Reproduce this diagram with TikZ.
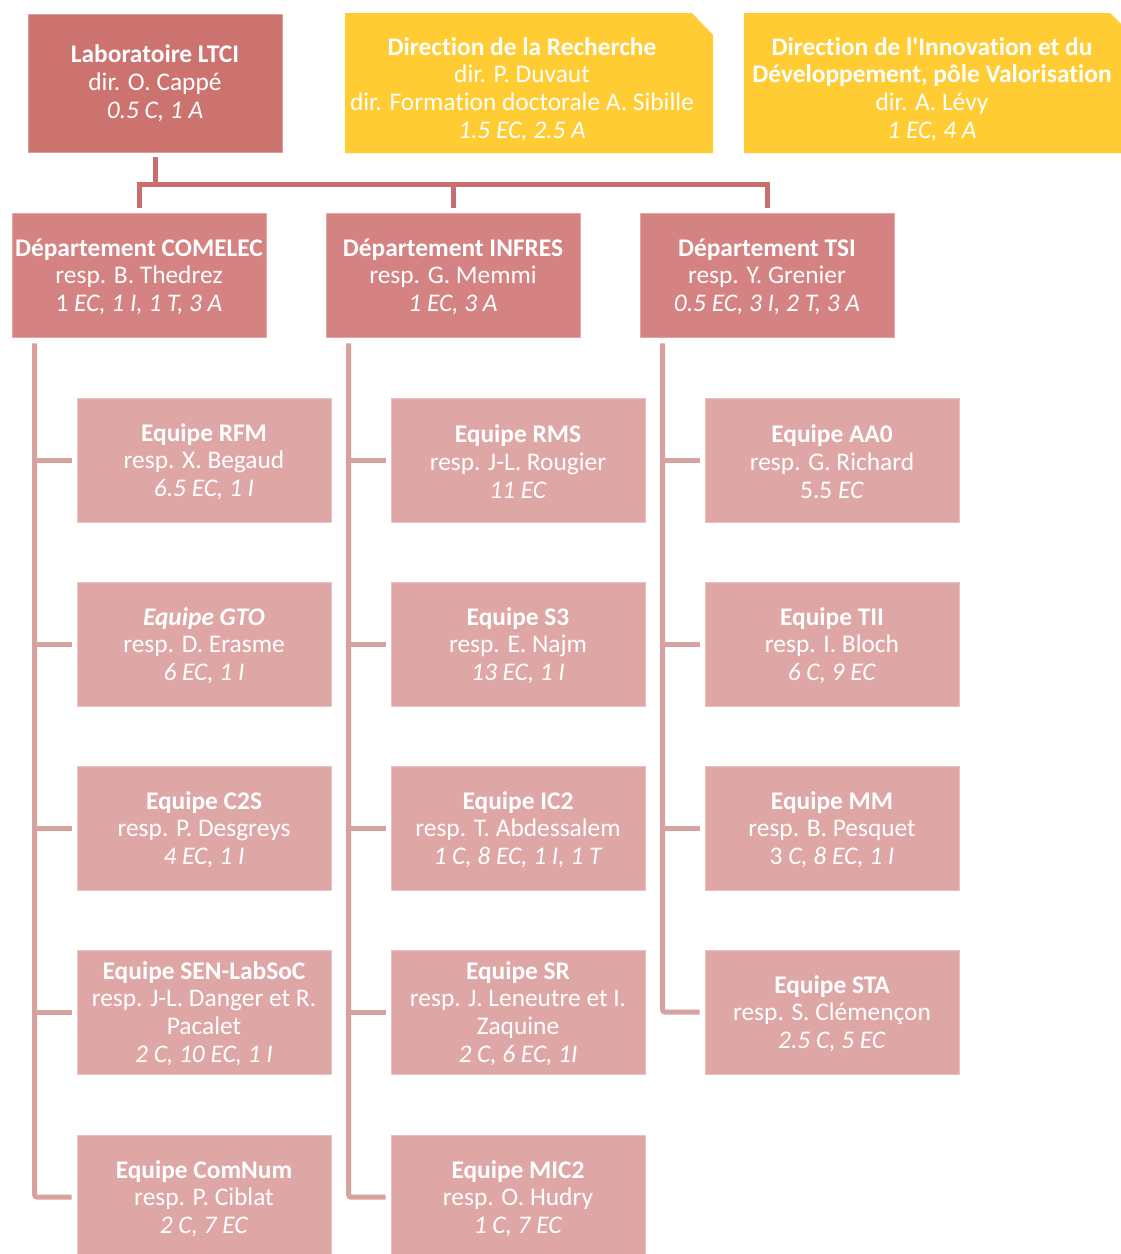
\documentclass[tikz,border=0pt]{standalone}
\usepackage{fontspec}
\setmainfont{Carlito}[Ligatures={TeXOff,CommonOff}]
\usetikzlibrary{calc}
\definecolor{labc}{HTML}{CC7370}
\definecolor{deptc}{HTML}{D48282}
\definecolor{teamc}{HTML}{DFA6A6}
\definecolor{yelc}{HTML}{FFCC33}
\definecolor{toplinec}{HTML}{C96E6E}
\definecolor{teamlinec}{HTML}{D9A0A0}
\newcommand\tp{\rule{0pt}{21pt}}
\newcommand\orgtxt[3]{\tp\textbf{#1}\\#2\\\textit{#3}}
\begin{document}
\begin{tikzpicture}[x=1pt,y=-1pt,
  txt/.style={text=white, align=center, inner sep=0pt, font=\fontsize{25.4}{27.8}\selectfont},
  box/.style={txt, minimum width=254pt, minimum height=124pt},
  labbox/.style={box, minimum height=138pt, fill=labc, draw=labc!70!white, line width=0.6pt},
  deptbox/.style={box, fill=deptc, draw=deptc!70!white, line width=0.6pt},
  teambox/.style={box, fill=teamc, draw=teamc!70!white, line width=0.6pt},
  topline/.style={draw=toplinec, line width=5pt},
  teamline/.style={draw=teamlinec, line width=5pt}]
\useasboundingbox (0,0) rectangle (1121,1254);

% yellow boxes
\fill[yelc] (345,13) -- (692,13) -- (713,35) -- (713,153) -- (345,153) -- cycle;
\fill[yelc] (744,13) -- (1110,13) -- (1121,24) -- (1121,153) -- (744,153) -- cycle;
\node[txt] (dirrech) at (522,88) {\tp\textbf{Direction de la Recherche}\\dir. P. Duvaut\\dir. Formation doctorale A. Sibille\\\textit{1.5 EC, 2.5 A}};
\node[txt] (dirinno) at (932,88) {\tp\textbf{Direction de l'Innovation et du}\\\textbf{Développement, pôle Valorisation}\\dir. A. Lévy\\\textit{1 EC, 4 A}};

% lab
\node[labbox] (ltci) at (155,83) {\textbf{Laboratoire LTCI}\\dir. O. Cappé\\\textit{0.5 C, 1 A}};

% departments
\node[deptbox] (comelec) at (139,275) {\tp\textbf{Département COMELEC}\\resp. B. Thedrez\\1 \textit{EC, 1 I, 1 T, 3 A}};
\node[deptbox] (infres) at (453,275) {\orgtxt{Département INFRES}{resp. G. Memmi}{1 EC, 3 A}};
\node[deptbox] (tsi) at (767,275) {\orgtxt{Département TSI}{resp. Y. Grenier}{0.5 EC, 3 I, 2 T, 3 A}};

% top connectors
\coordinate (bus) at (155,184);
\draw[topline] ([yshift=-5pt]ltci.south) -- (bus);
\draw[topline] ([yshift=5pt]comelec.north) |- (bus) -| ([yshift=5pt]tsi.north);
\draw[topline] ([yshift=5pt]infres.north) -- (infres.north |- bus);

% COMELEC teams
\node[teambox] (rfm) at (204,460) {\orgtxt{Equipe RFM}{resp. X. Begaud}{6.5 EC, 1 I}};
\node[teambox] (gto) at (204,644) {\tp\textbf{\textit{Equipe GTO}}\\resp. D. Erasme\\\textit{6 EC, 1 I}};
\node[teambox] (c2s) at (204,828) {\orgtxt{Equipe C2S}{resp. P. Desgreys}{4 EC, 1 I}};
\node[teambox] (sen) at (204,1012) {\tp\textbf{Equipe SEN-LabSoC}\\resp. J-L. Danger et R.\\Pacalet\\\textit{2 C, 10 EC, 1 I}};
\node[teambox] (comnum) at (204,1197) {\orgtxt{Equipe ComNum}{resp. P. Ciblat}{2 C, 7 EC}};

% INFRES teams
\node[teambox] (rms) at (518,460) {\orgtxt{Equipe RMS}{resp. J-L. Rougier}{11 EC}};
\node[teambox] (s3) at (518,644) {\orgtxt{Equipe S3}{resp. E. Najm}{13 EC, 1 I}};
\node[teambox] (ic2) at (518,828) {\orgtxt{Equipe IC2}{resp. T. Abdessalem}{1 C, 8 EC, 1 I, 1 T}};
\node[teambox] (sr) at (518,1012) {\tp\textbf{Equipe SR}\\resp. J. Leneutre et I.\\Zaquine\\\textit{2 C, 6 EC, 1I}};
\node[teambox] (mic2) at (518,1197) {\orgtxt{Equipe MIC2}{resp. O. Hudry}{1 C, 7 EC}};

% TSI teams
\node[teambox] (aa0) at (832,460) {\tp\textbf{Equipe AA0}\\resp. G. Richard\\5.5 \textit{EC}};
\node[teambox] (tii) at (832,644) {\orgtxt{Equipe TII}{resp. I. Bloch}{6 C, 9 EC}};
\node[teambox] (mm) at (832,828) {\tp\textbf{Equipe MM}\\resp. B. Pesquet\\3 \textit{C, 8 EC, 1 I}};
\node[teambox] (sta) at (832,1012) {\orgtxt{Equipe STA}{resp. S. Clémençon}{2.5 C, 5 EC}};

% team connectors
\coordinate (cx) at ([xshift=23pt,yshift=-6pt]comelec.south west);
\coordinate (ix) at ([xshift=23pt,yshift=-6pt]infres.south west);
\coordinate (tx) at ([xshift=23pt,yshift=-6pt]tsi.south west);
\draw[teamline, rounded corners=2pt] (cx) |- ([xshift=-5pt]comnum.west);
\draw[teamline, rounded corners=2pt] (ix) |- ([xshift=-5pt]mic2.west);
\draw[teamline, rounded corners=2pt] (tx) |- ([xshift=-5pt]sta.west);
\foreach \t in {rfm,gto,c2s,sen} \draw[teamline] (cx |- \t.west) -- ([xshift=-5pt]\t.west);
\foreach \t in {rms,s3,ic2,sr} \draw[teamline] (ix |- \t.west) -- ([xshift=-5pt]\t.west);
\foreach \t in {aa0,tii,mm} \draw[teamline] (tx |- \t.west) -- ([xshift=-5pt]\t.west);
\end{tikzpicture}
\end{document}
